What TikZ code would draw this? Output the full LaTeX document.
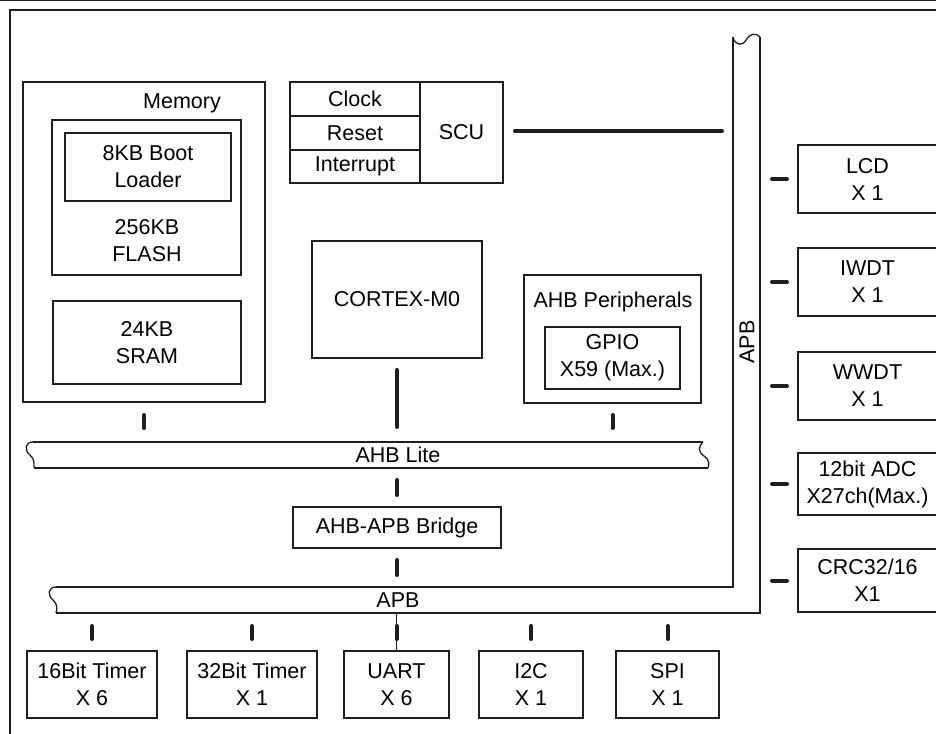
\documentclass[tikz,border=0pt]{standalone}
\usepackage{fontspec}
\setmainfont{Liberation Sans}
\usetikzlibrary{calc}
\definecolor{ln}{RGB}{30,30,30}
\tikzset{
  box/.style={draw=ln, line width=1.3pt, inner sep=0pt, outer sep=0pt, align=center,
    font=\fontsize{21.5}{27}\selectfont, anchor=north west},
  lbl/.style={inner sep=0pt, align=center, font=\fontsize{21.5}{27}\selectfont},
  tick/.style={draw=ln, line width=4pt, line cap=round},
  bus/.style={draw=ln, line width=1.3pt},
}
\newcommand{\bx}[6]{\node[box, minimum width=#4pt-#2pt, minimum height=#5pt-#3pt] (#1) at (#2,#3) {#6};}
\begin{document}
\begin{tikzpicture}[x=1pt,y=-1pt]
\useasboundingbox (0,0) rectangle (936,733);
\clip (0,0) rectangle (936,733);
% frame
\draw[ln, line width=1pt] (0,0.5) -- (936,0.5);
\draw[ln, line width=1.5pt] (936,10) -- (10,10) -- (10,734);
% memory
\bx{mem}{23}{82}{265}{402}{}
\node[lbl] (memt) at (182,103) {Memory};
\bx{flash}{52}{120}{241}{275}{}
\bx{boot}{65}{133}{231}{201}{8KB Boot\\Loader}
\node[lbl] (flasht) at (147,241) {256KB\\FLASH};
\bx{sram}{53}{301}{241}{384}{24KB\\SRAM}
% SCU
\bx{clk}{290}{82}{420}{116}{Clock}
\bx{rst}{290}{116}{420}{150}{Reset}
\bx{irq}{290}{150}{420}{183}{Interrupt}
\bx{scu}{420}{82}{503}{183}{SCU}
% core
\bx{cpu}{312}{241}{482}{358}{CORTEX-M0}
\bx{ahbp}{524}{275}{701}{403}{}
\node[lbl] (ahbpt) at (613,302) {AHB Peripherals};
\bx{gpio}{545}{327}{680}{389}{GPIO\\X59 (Max.)}
\bx{bridge}{293}{507}{501}{548}{AHB-APB Bridge}
% bottom peripherals
\bx{t16}{27}{651}{157}{718}{16Bit Timer\\X 6}
\bx{t32}{187}{651}{317}{718}{32Bit Timer\\X 1}
\bx{uart}{344}{651}{449}{718}{UART\\X 6}
\bx{iic}{479}{651}{583}{718}{I2C\\X 1}
\bx{spi}{616}{651}{719}{718}{SPI\\X 1}
% right peripherals
\bx{lcd}{798}{145}{937}{213}{LCD\\X 1}
\bx{iwdt}{798}{248}{937}{316}{IWDT\\X 1}
\bx{wwdt}{798}{352}{937}{420}{WWDT\\X 1}
\bx{adc}{798}{453}{937}{515}{12bit ADC\\X27ch(Max.)}
\bx{crc}{798}{549}{937}{612}{CRC32/16\\X1}
% AHB Lite bus
\draw[bus] (33,442) -- (703,442);
\draw[bus] (34,468) -- (708,468);
\draw[bus] (33,442) .. controls (25,442) and (24,450) .. (30,455) .. controls (35,459) and (34,465) .. (34,468);
\draw[bus] (703,442) .. controls (698,447) and (698,452) .. (704,456) .. controls (710,460) and (709,465) .. (708,468);
\node[lbl] (ahbl) at (398,455) {AHB Lite};
% APB bus (L shape)
\draw[bus] (56,587) -- (733,587) -- (733,37);
\draw[bus] (56,613) -- (760,613) -- (760,37);
\draw[bus] (56,587) .. controls (48,587) and (47,595) .. (53,600) .. controls (58,604) and (57,610) .. (56,613);
\draw[bus] (733,37) .. controls (735,46) and (743,46) .. (746,40) .. controls (749,34) and (756,32) .. (760,37);
\node[lbl] (apbh) at (398,600) {APB};
\node[lbl, rotate=90] (apbv) at (747,342) {APB};
\coordinate (apbtop) at (397,613);
% connectors
\draw[tick] ([yshift=-13pt]mem.south) -- ([yshift=-26pt]mem.south);
\draw[tick] ([yshift=-12pt]cpu.south) -- ([yshift=-69pt]cpu.south);
\draw[tick] ([yshift=-12pt]ahbp.south) -- ([yshift=-25pt]ahbp.south);
\draw[tick] ([yshift=27pt]bridge.north) -- ([yshift=12pt]bridge.north);
\draw[tick] ([yshift=-12pt]bridge.south) -- ([yshift=-27pt]bridge.south);
\draw[tick] ([xshift=12pt]scu.east |- 0,131) -- ([xshift=219pt]scu.east |- 0,131);
\foreach \n in {t16,t32,uart,iic,spi}{
  \draw[tick] ([yshift=25pt]\n.north) -- ([yshift=12pt]\n.north);
}
\draw[ln, line width=1pt] (uart.north) -- (uart.north |- apbtop);
\foreach \n in {lcd,iwdt,wwdt,adc,crc}{
  \draw[tick] ([xshift=-26pt]\n.west) -- ([xshift=-11pt]\n.west);
}
\end{tikzpicture}
\end{document}
